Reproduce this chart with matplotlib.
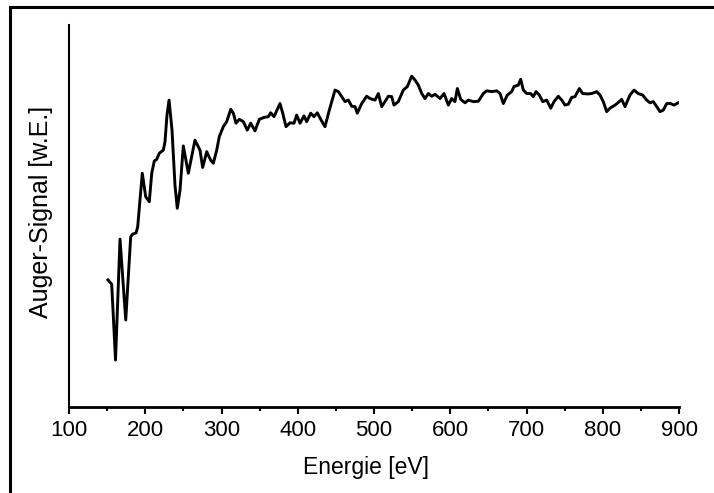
import matplotlib

matplotlib.use("Agg")
import matplotlib.pyplot as plt
from matplotlib.lines import Line2D
from matplotlib.ticker import MultipleLocator

# Auger spectrum (energy in eV, signal in arbitrary units)
energy = [
    151.1, 156.0, 161.0, 166.9, 174.4, 180.9, 183.5, 187.9, 190.1, 196.1,
    200.6, 205.3, 208.5, 211.9, 215.0, 218.4, 223.7, 225.9, 228.5, 231.2,
    235.1, 239.0, 242.0, 245.6, 249.9, 256.5, 265.2, 271.8, 275.3, 280.6,
    285.8, 289.3, 293.7, 297.1, 302.4, 306.8, 312.1, 315.5, 319.0, 323.3,
    328.6, 333.8, 338.3, 343.9, 349.6, 355.7, 361.4, 364.5, 368.9, 376.7,
    380.3, 384.6, 389.8, 395.1, 398.6, 403.0, 408.2, 411.7, 417.0, 421.3,
    425.6, 430.1, 435.7, 441.4, 448.9, 453.2, 457.7, 462.0, 466.3, 470.8,
    475.1, 478.1, 483.9, 490.4, 494.8, 501.3, 505.7, 510.1, 514.4, 518.8,
    523.2, 526.2, 531.9, 538.4, 543.7, 549.4, 553.8, 558.1, 562.6, 566.9,
    571.2, 575.7, 580.0, 586.6, 591.8, 597.5, 601.9, 606.2, 609.3, 613.7,
    619.4, 623.7, 630.3, 636.8, 643.4, 647.8, 654.4, 660.9, 665.3, 669.6,
    674.8, 680.6, 683.6, 689.3, 692.4, 695.8, 700.3, 705.5, 708.9, 712.5,
    716.8, 721.3, 726.5, 731.8, 736.1, 741.7, 746.2, 750.5, 754.8, 759.3,
    763.6, 769.3, 773.7, 779.8, 785.5, 792.1, 796.4, 800.7, 805.2, 809.5,
    816.1, 821.7, 824.8, 829.2, 835.7, 841.0, 846.6, 852.4, 857.6, 862.0,
    866.3, 870.8, 875.1, 879.4, 883.9, 889.1, 893.4, 899.1,
]
signal = [
    33.8, 32.7, 13.0, 44.4, 23.4, 45.0, 45.7, 46.0, 47.6, 61.5,
    55.4, 54.1, 61.5, 64.7, 65.1, 66.7, 67.5, 69.7, 76.6, 80.5,
    72.7, 58.4, 52.4, 57.1, 68.6, 61.5, 70.1, 67.5, 63.0, 67.1,
    64.9, 64.1, 67.5, 71.0, 73.6, 74.9, 78.1, 77.1, 74.5, 75.5,
    74.9, 72.7, 74.5, 72.5, 75.5, 76.0, 76.2, 77.2, 76.2, 79.6,
    77.1, 73.6, 74.6, 74.5, 76.6, 74.5, 76.4, 74.9, 77.1, 76.2,
    77.2, 75.5, 73.6, 77.9, 83.1, 82.7, 81.4, 80.1, 80.5, 78.9,
    78.8, 77.1, 79.6, 81.5, 80.9, 80.5, 82.2, 78.8, 80.1, 81.5,
    81.4, 79.2, 80.1, 83.1, 84.0, 86.7, 85.7, 84.4, 82.2, 80.9,
    82.2, 81.5, 82.0, 80.9, 82.2, 79.2, 80.9, 80.1, 83.5, 80.7,
    79.8, 80.5, 80.1, 80.2, 82.2, 82.9, 82.7, 82.9, 82.2, 79.6,
    81.8, 82.7, 84.0, 84.4, 85.9, 83.1, 82.2, 82.2, 81.4, 82.7,
    81.8, 80.1, 80.5, 78.4, 80.1, 81.5, 80.5, 79.2, 79.4, 81.2,
    81.4, 83.5, 82.2, 82.1, 82.2, 82.7, 81.8, 80.1, 77.5, 78.4,
    79.2, 80.1, 80.7, 78.8, 81.8, 83.1, 82.2, 81.8, 80.5, 79.8,
    80.1, 78.8, 77.5, 77.9, 79.6, 79.6, 79.2, 79.8,
]

plt.rcParams["font.family"] = ["Liberation Sans", "DejaVu Sans"]

W, H = 714, 493
ax_left, ax_right, ax_top, ax_bottom = 69, 679, 25, 407

fig = plt.figure(figsize=(W / 100, H / 100), dpi=100)
ax = fig.add_axes([ax_left / W, 1 - ax_bottom / H,
                   (ax_right - ax_left) / W, (ax_bottom - ax_top) / H])

ax.plot(energy, signal, color="black", linewidth=2.1, solid_joinstyle="round")

ax.set_xlim(100, 900)
ax.set_ylim(0.8, 100)
ax.xaxis.set_major_locator(MultipleLocator(100))
ax.xaxis.set_minor_locator(MultipleLocator(50))
ax.tick_params(axis="x", which="major", direction="out", length=5, width=1.5,
               labelsize=16, pad=4)
ax.tick_params(axis="x", which="minor", direction="out", length=3, width=1.5)
ax.set_yticks([])

for side in ("top", "right"):
    ax.spines[side].set_visible(False)
ax.spines["left"].set_linewidth(1.5)
ax.spines["bottom"].set_linewidth(2.0)

ax.set_xlabel("Energie [eV]", fontsize=16.5)
ax.set_ylabel("Auger-Signal [w.E.]", fontsize=18)
ax.xaxis.set_label_coords((366 - ax_left) / (ax_right - ax_left),
                          (ax_bottom - 456) / (ax_bottom - ax_top))
ax.yaxis.set_label_coords((53 - ax_left) / (ax_right - ax_left),
                          (ax_bottom - 212) / (ax_bottom - ax_top))

# outer frame, only the left and top edges fall inside the picture
fx = 9.5 / W
fy = 1 - 6.5 / H
fig.add_artist(Line2D([fx, fx], [-0.1, fy], transform=fig.transFigure,
                      color="black", linewidth=2.2))
fig.add_artist(Line2D([fx, 1.1], [fy, fy], transform=fig.transFigure,
                      color="black", linewidth=2.2))

fig.savefig("out.png", dpi=100)
plt.close(fig)
